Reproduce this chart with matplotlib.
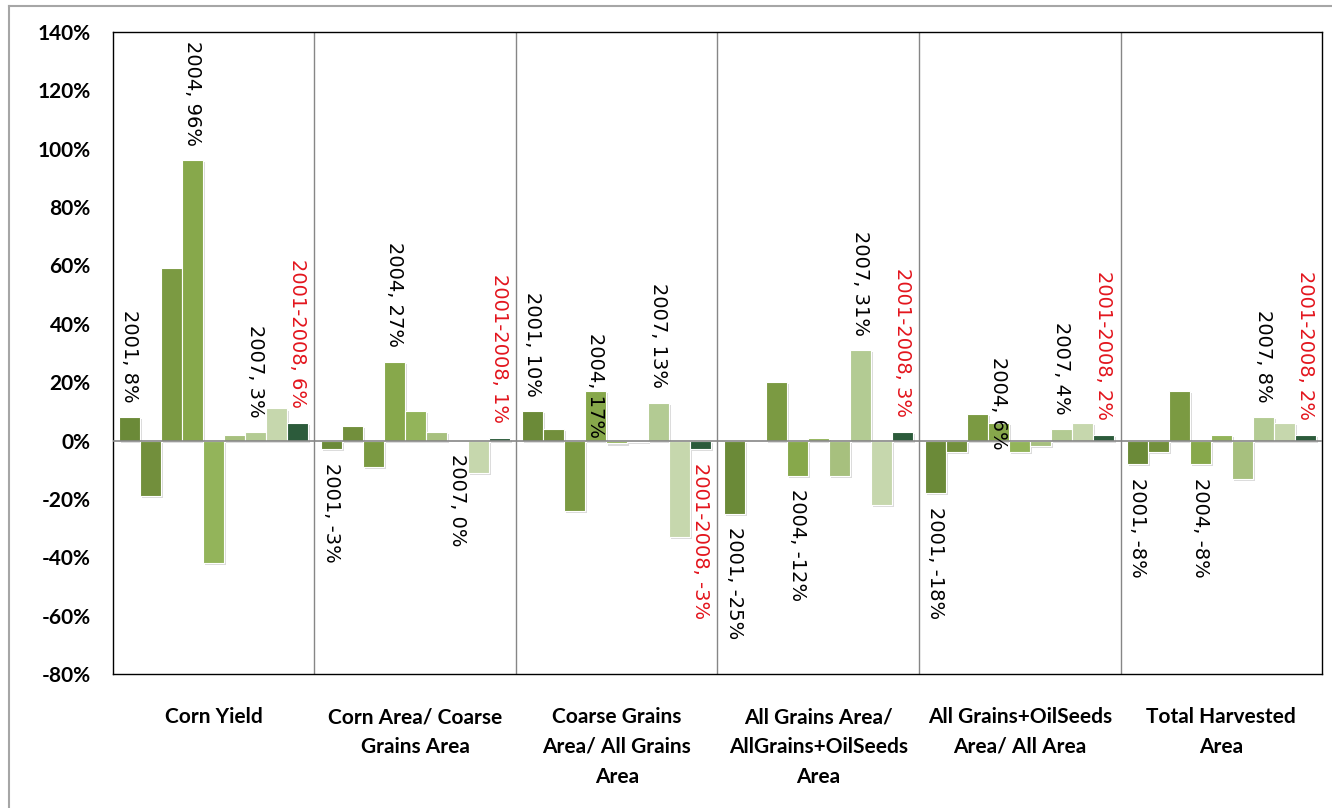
import matplotlib
matplotlib.use("Agg")
import matplotlib.pyplot as plt
import matplotlib.patheffects as pe
from matplotlib.lines import Line2D
import numpy as np

# categories (x axis groups)
categories = ["Corn Yield",
              "Corn Area/ Coarse\nGrains Area",
              "Coarse Grains\nArea/ All Grains\nArea",
              "All Grains Area/\nAllGrains+OilSeeds\nArea",
              "All Grains+OilSeeds\nArea/ All Area",
              "Total Harvested\nArea"]

series = ["2001", "2002", "2003", "2004", "2005", "2006", "2007", "2008", "2001-2008"]

# % change per series, one list per category
corn_yield = [8, -19, 59, 96, -42, 2, 3, 11, 6]
corn_area = [-3, 5, -9, 27, 10, 3, 0, -11, 1]
coarse_grains = [10, 4, -24, 17, -1, -0.5, 13, -33, -3]
all_grains = [-25, 0, 20, -12, 1, -12, 31, -22, 3]
grains_oilseeds = [-18, -4, 9, 6, -4, -2, 4, 6, 2]
total_harvested = [-8, -4, 17, -8, 2, -13, 8, 6, 2]

labelled = ["2001", "2004", "2007", "2001-2008"]

yticks = [-80, -60, -40, -20, 0, 20, 40, 60, 80, 100, 120, 140]

colors = ["#6b8a38", "#728f3c", "#7b9a42", "#87a84b", "#93b45a",
          "#a7c07e", "#b3cb93", "#c6d7ad", "#2c5b3b"]

values = np.array([corn_yield, corn_area, coarse_grains,
                   all_grains, grains_oilseeds, total_harvested])

plt.rcParams['font.family'] = ['Lato', 'DejaVu Sans']

fig = plt.figure(figsize=(13.32, 8.08), dpi=100)
ax = fig.add_axes([0.0848, 0.1658, 0.9077, 0.7946])

# grey outer frame of the chart area
fig.add_artist(Line2D([9 / 1332, 9 / 1332], [0, 1 - 6 / 808], color="#a6a6a6", lw=1.5))
fig.add_artist(Line2D([9 / 1332, 1], [1 - 6 / 808, 1 - 6 / 808], color="#a6a6a6", lw=1.5))

x = np.arange(len(categories))
n = len(series)
w = 0.938 / n
shadow = [pe.SimplePatchShadow(offset=(1.5, -1.5), shadow_rgbFace="#999999", alpha=0.35), pe.Normal()]

for j, s in enumerate(series):
    xs = x + (j - (n - 1) / 2) * w
    bars = ax.bar(xs, values[:, j], width=w, color=colors[j], edgecolor="white",
                  linewidth=0.8, zorder=3)
    for b in bars:
        b.set_path_effects(shadow)
    if s not in labelled:
        continue
    for i in range(len(categories)):
        v = values[i, j]
        txt = f"{s}, {v:.0f}%"
        col = "#e3151d" if s == "2001-2008" else "black"
        # two labels sit on their bars in the original
        if (i, j) == (2, 3):
            anchor, off, va = 1, 0, "bottom"
        elif (i, j) == (4, 3):
            anchor, off, va = -3, 0, "bottom"
        elif v > 0:
            anchor, off, va = v, 10.5, "bottom"
        else:
            anchor, off, va = v, -10, "top"
        ax.annotate(txt, (xs[i], anchor), xytext=(0, off), textcoords="offset points",
                    rotation=-90, ha="center", va=va, fontsize=14, color=col, zorder=5,
                    family=["DejaVu Sans"])

ax.axhline(0, color="#868686", lw=1.2, zorder=4)
for b in np.arange(0.5, len(categories) - 0.5, 1):
    ax.axvline(b, color="#868686", lw=1.0, zorder=1)

ax.set_xlim(-0.5, len(categories) - 0.5)
ax.set_ylim(-80, 140)
ax.set_yticks(yticks)
ax.set_yticklabels([f"{t}%" for t in yticks], fontsize=15, fontweight="bold")
ax.set_xticks(x)
ax.set_xticklabels(categories, fontsize=15, fontweight="bold", linespacing=1.6)
ax.tick_params(axis="y", length=0, pad=16)
ax.tick_params(axis="x", length=0, pad=24)
for sp in ax.spines.values():
    sp.set_color("black")
    sp.set_linewidth(1.0)

fig.savefig("out.png", dpi=100)
